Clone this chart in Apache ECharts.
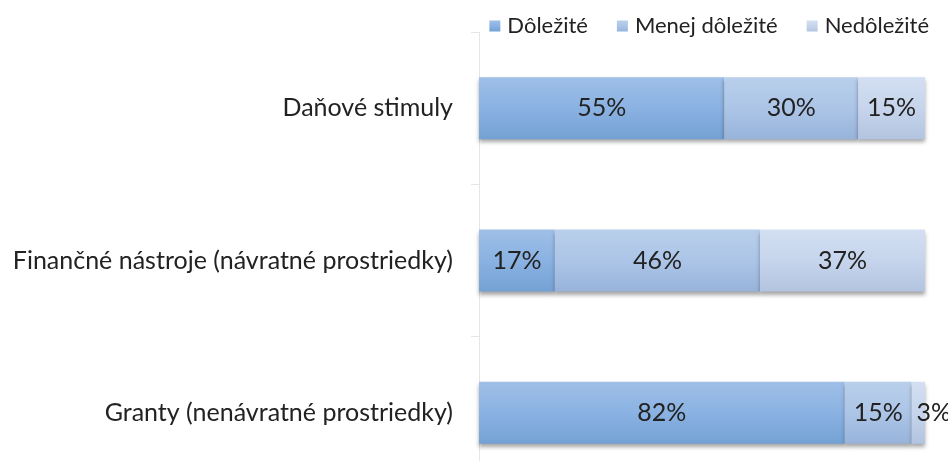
<!DOCTYPE html>
<html>
<head>
    <meta charset="utf-8">
    <title>Stimuly</title>
    <script type="text/javascript" src="https://cdn.jsdelivr.net/npm/echarts@6/dist/echarts.min.js"></script>
</head>
<body style="margin:0;">
    <div id="main" style="width:948px;height:461px;"></div>
    <script type="text/javascript">
    var categories = ['Daňové stimuly', 'Finančné nástroje (návratné prostriedky)', 'Granty (nenávratné prostriedky)'];
    var dolezite = [55, 17, 82];
    var menejDolezite = [30, 46, 15];
    var nedolezite = [15, 37, 3];

    var myChart = echarts.init(document.getElementById('main'));

    function grad(top, mid, bottom) {
        return new echarts.graphic.LinearGradient(0, 0, 0, 1, [
            {offset: 0, color: top},
            {offset: 0.5, color: mid},
            {offset: 1, color: bottom}
        ]);
    }

    function makeSeries(name, data, color) {
        return {
            name: name,
            type: 'bar',
            stack: 'total',
            barWidth: 62,
            data: data,
            itemStyle: {
                color: color,
                shadowColor: 'rgba(0,0,0,0.35)',
                shadowBlur: 4,
                shadowOffsetY: 3
            },
            label: {
                show: true,
                position: 'inside',
                formatter: '{c}%',
                fontFamily: 'Lato',
                fontSize: 25,
                color: '#222'
            }
        };
    }

    var s3 = makeSeries('Nedôležité', nedolezite.map(function (v) {
        if (v < 5) {
            return {value: v, label: {position: 'insideLeft', offset: [0, 0]}};
        }
        return v;
    }), grad('#d3dff2', '#c6d5ec', '#b3c4e0'));

    var option = {
        animation: false,
        legend: {
            top: 10,
            right: 14,
            itemWidth: 11,
            itemHeight: 11,
            itemGap: 29,
            icon: 'rect',
            textStyle: {
                fontFamily: 'Lato',
                fontSize: 22,
                color: '#222',
                padding: [0, 0, 0, 2]
            },
            data: ['Dôležité', 'Menej dôležité', 'Nedôležité']
        },
        grid: {
            left: 479,
            right: 23,
            top: 32,
            height: 457,
            outerBoundsMode: 'none',
            containLabel: false
        },
        xAxis: {
            type: 'value',
            min: 0,
            max: 100,
            show: false
        },
        yAxis: {
            type: 'category',
            inverse: true,
            data: categories,
            axisLine: {lineStyle: {color: '#e6e6e6'}},
            axisTick: {show: true, length: 8, lineStyle: {color: '#e6e6e6'}},
            axisLabel: {
                fontFamily: 'Lato',
                fontSize: 25,
                color: '#222',
                margin: 26
            }
        },
        series: [
            makeSeries('Dôležité', dolezite, grad('#9fbfe7', '#8ab2e2', '#74a1d4')),
            makeSeries('Menej dôležité', menejDolezite, grad('#b9cfeb', '#acc5e7', '#98b3da')),
            s3
        ]
    };
    myChart.setOption(option);
    </script>
</body>
</html>
